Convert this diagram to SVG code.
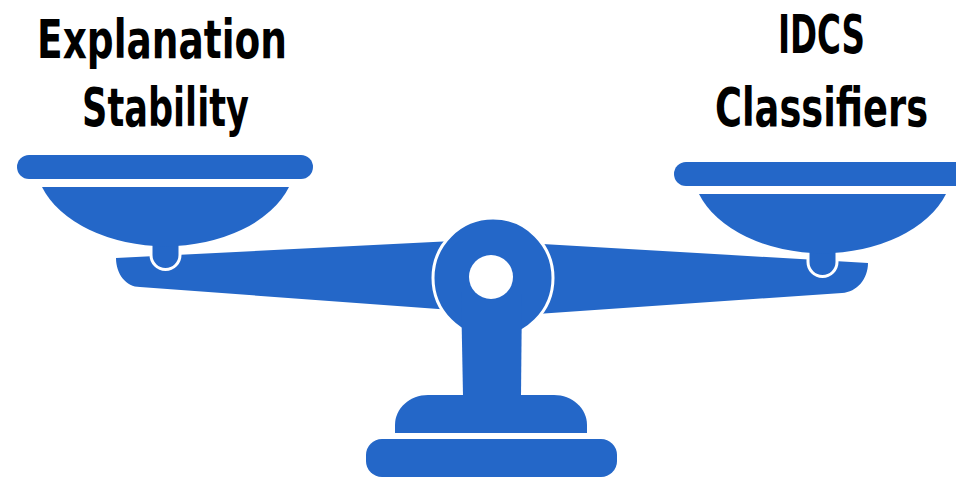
<svg xmlns="http://www.w3.org/2000/svg" width="956" height="477" viewBox="0 0 956 477">
  <style>
    .metal { fill: #2467c8; }
    .cut { fill: #2467c8; stroke: #ffffff; stroke-width: 3; }
    .label { font-family: "DejaVu Sans", "Liberation Sans", sans-serif; font-weight: bold; font-size: 54px; fill: #000000; text-anchor: middle; }
  </style>
  <defs>
    <!-- one hanging pan: rim, bowl and the knob that rests on the beam -->
    <g id="pan-shape">
      <path class="cut" d="M151,238 L151,255 A14.5,14.5 0 0 0 180,255 L180,238 Z"/>
      <rect class="metal" x="17" y="155" width="296" height="24" rx="12"/>
      <path class="metal" d="M42,187 L289,187 A130,86 0 0 1 42,187 Z"/>
    </g>
  </defs>

  <rect width="956" height="477" fill="#ffffff"/>

  <!-- balance beam arms -->
  <g id="beam">
    <path class="metal" d="M116,258 L493,239 L493,313 L140,287 C126,287 116,274 116,258 Z"/>
    <path class="metal" d="M868,263 L493,241 L493,317 L842,293 C857,292 868,279 868,263 Z"/>
  </g>

  <!-- left and right pans -->
  <g id="pan-left">
    <use href="#pan-shape"/>
  </g>
  <g id="pan-right">
    <use href="#pan-shape" transform="translate(657,7)"/>
  </g>

  <!-- pivot, column and base -->
  <g id="stand">
    <circle class="cut" cx="493" cy="278" r="60"/>
    <path class="metal" d="M461,290 L522,290 L521,396 L463,396 Z"/>
    <circle cx="491" cy="277" r="22" fill="#ffffff"/>
    <path class="metal" d="M395,433 L395,425 C395,408 410,395 428,395 L554,395 C572,395 587,408 587,425 L587,433 Z"/>
    <rect class="metal" x="366" y="439" width="251" height="38" rx="16"/>
  </g>

  <!-- labels are drawn in a narrowed bold face -->
  <g id="label-left">
    <text class="label" transform="translate(162,58) scale(0.67,1)" textLength="373" lengthAdjust="spacingAndGlyphs">Explanation</text>
    <text class="label" transform="translate(165.5,126) scale(0.67,1)" textLength="249" lengthAdjust="spacingAndGlyphs">Stability</text>
  </g>
  <g id="label-right">
    <text class="label" transform="translate(821.5,53) scale(0.67,1)" textLength="130" lengthAdjust="spacingAndGlyphs">IDCS</text>
    <text class="label" transform="translate(821.5,126) scale(0.67,1)" textLength="318" lengthAdjust="spacingAndGlyphs">Classifiers</text>
  </g>
</svg>
